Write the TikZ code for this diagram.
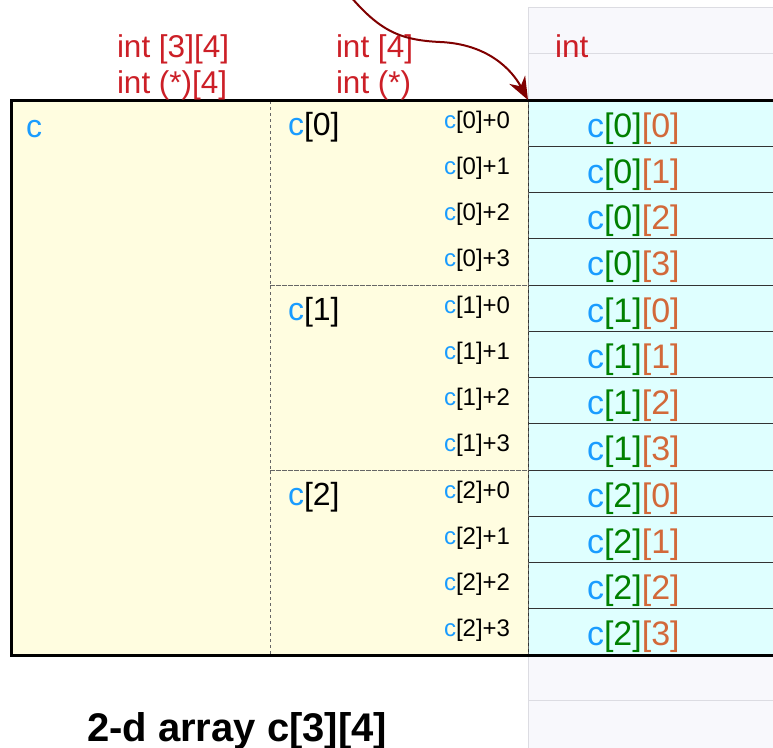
\documentclass[tikz,border=0pt]{standalone}
\usepackage{fontspec}
\setmainfont{Liberation Sans}
\usetikzlibrary{arrows.meta,positioning}

\definecolor{typered}{HTML}{CC1F27}
\definecolor{ptrred}{HTML}{800000}
\definecolor{nameblue}{HTML}{1A9CFF}
\definecolor{rowgreen}{HTML}{008000}
\definecolor{colorange}{HTML}{D2693A}
\definecolor{arrfill}{HTML}{FFFDE0}
\definecolor{cellfill}{HTML}{DFFFFF}
\definecolor{memfill}{HTML}{F8F8FC}
\definecolor{memline}{HTML}{DCDCE2}

\tikzset{
  typelbl/.style={text=typered,anchor=base west,font=\fontsize{31.5}{36}\selectfont},
  cellbox/.style={draw=black!80,line width=1pt,fill=cellfill,minimum width=320pt,minimum height=46.25pt,anchor=north west},
  rowbox/.style={draw=black!60,dashed,line width=0.8pt,minimum width=258pt,minimum height=185pt,anchor=north west},
  elem/.style={anchor=base west,font=\fontsize{34}{40}\selectfont},
  addr/.style={anchor=base west,font=\fontsize{24}{28}\selectfont},
}

\begin{document}
\begin{tikzpicture}[x=1pt,y=-1pt,every node/.style={inner sep=0pt,outer sep=0pt}]
  \useasboundingbox (0,0) rectangle (773,747);
  % memory panel behind
  \node[draw=memline,fill=memfill,line width=1pt,minimum width=320pt,minimum height=760pt,anchor=north west] (mem) at (528,7) {};
  \draw[memline,line width=1pt] (528,53) -- (850,53);
  \draw[memline,line width=1pt] (528,700) -- (850,700);

  % the array
  \node[fill=arrfill,minimum width=517pt,minimum height=555pt,anchor=north west] (arr) at (11,100) {};
  \foreach \i in {0,1,2}
    \foreach \j in {0,...,3} {
      \pgfmathsetmacro\k{4*\i+\j}
      \node[cellbox] (cell\i\j) at (528,{100+46.25*\k}) {};
      \node[elem] (e\i\j) at (587,{137+46.25*\k})
        {\textcolor{nameblue}{c}\textcolor{rowgreen}{[\i]}\textcolor{colorange}{[\j]}};
      \node[addr] (a\i\j) at (444,{128+46.25*\k}) {\textcolor{nameblue}{c}[\i]+\j};
    }
  \foreach \i in {0,1,2} {
    \node[rowbox] (row\i) at (270,{100+185*\i}) {};
    \node[elem,font=\fontsize{32}{36}\selectfont] (r\i) at (288,{135+185*\i}) {\textcolor{nameblue}{c}[\i]};
  }
  \node[elem,font=\fontsize{32}{36}\selectfont,text=nameblue] (c) at (26,137) {c};
  \draw[line width=3pt] (arr.north west) rectangle (850,655);

  % types
  \node[typelbl] (t2d) at (117,57) {int [3][4]};
  \node[typelbl] (t2dp) at (117,93) {int (*)[4]};
  \node[typelbl] (t1d) at (336,57) {int [4]};
  \node[typelbl] (t1dp) at (336,93) {int (*)};
  \node[typelbl] (tint) at (555,57) {int};

  % pointer
  \coordinate (src) at (345,-10);
  \draw[ptrred,line width=2pt,-{Stealth[length=23pt,width=18pt]}]
    (src) .. controls (378,30) and (398,40) .. (440,42)
    .. controls (488,44) and (512,70) .. (cell00.north west);

  \node[anchor=base west,font=\fontsize{40}{46}\selectfont\bfseries] (title) at (87,741) {2-d array c[3][4]};
\end{tikzpicture}
\end{document}
